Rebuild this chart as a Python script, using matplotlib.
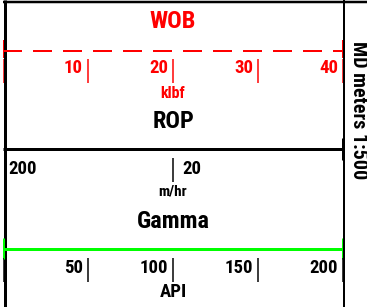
import matplotlib
matplotlib.use("Agg")
import matplotlib.pyplot as plt

# ---- data ----
wob_title = "WOB"
wob_unit = "klbf"
wob_range = [0, 40]
wob_ticks = [10, 20, 30, 40]

rop_title = "ROP"
rop_unit = "m/hr"
rop_range = [200, 2]
rop_ticks = [20]
rop_left_label = "200"

gamma_title = "Gamma"
gamma_unit = "API"
gamma_range = [0, 200]
gamma_ticks = [50, 100, 150, 200]

depth_label = "MD meters 1:500"

# ---- styling ----
W, H = 367, 307
plt.rcParams['font.family'] = ['Roboto Condensed', 'Liberation Sans', 'DejaVu Sans']
plt.rcParams['font.weight'] = 'bold'
plt.rcParams['lines.solid_capstyle'] = 'butt'
plt.rcParams['lines.dash_capstyle'] = 'butt'

fig = plt.figure(figsize=(W / 100, H / 100), dpi=100)
PX = 0.72  # points per pixel at dpi 100

# base layer in pixel coordinates
base = fig.add_axes([0, 0, 1, 1])
base.set_xlim(0, W)
base.set_ylim(H, 0)
base.axis('off')

TRACK_L, TRACK_R = 3, 343


def track_axes(rng, log=False):
    ax = fig.add_axes([TRACK_L / W, 0, (TRACK_R - TRACK_L) / W, 1])
    if log:
        ax.set_xscale('log')
    ax.set_xlim(rng[0], rng[1])
    ax.set_ylim(H, 0)
    ax.axis('off')
    ax.patch.set_alpha(0)
    return ax


title_fs = 17.5
tick_fs = 13.5

# WOB
red = '#ff0000'
ax = track_axes(wob_range)
ax.text(sum(wob_range) / 2, 21.5, wob_title, color=red, fontsize=title_fs,
        ha='center', va='center', fontweight='bold')
lw = 2.0 * PX
ax.plot(wob_range, [50.5, 50.5], color=red, lw=lw,
        ls=(0, (19 * PX / lw, 11 * PX / lw)))
ax.vlines(wob_range, 40, 58, color=red, lw=2 * PX)
ax.vlines([wob_range[0]] + wob_ticks, 59, 83, color=red, lw=1.5 * PX)
for t in wob_ticks:
    ax.annotate(str(t), (t, 68), xytext=(-5 * PX, 0), textcoords='offset points',
                color=red, fontsize=tick_fs, ha='right', va='center', fontweight='bold')
ax.text(sum(wob_range) / 2, 93, wob_unit, color=red, fontsize=11.5,
        ha='center', va='center', fontweight='bold')

# ROP
ax = track_axes(rop_range, log=True)
ax.text((rop_range[0] * rop_range[1]) ** 0.5, 122, rop_title, color='black',
        fontsize=title_fs, ha='center', va='center', fontweight='bold')
ax.plot(rop_range, [148.5, 148.5], color='black', lw=3 * PX)
ax.vlines([rop_range[1]], 138, 160, color='black', lw=3 * PX)
ax.vlines(rop_ticks, 158, 182, color='black', lw=1.5 * PX)
ax.annotate(rop_left_label, (rop_range[0], 169), xytext=(5 * PX, 0),
            textcoords='offset points', color='black', fontsize=tick_fs,
            ha='left', va='center', fontweight='bold')
for t in rop_ticks:
    ax.annotate(str(t), (t, 169), xytext=(9 * PX, 0), textcoords='offset points',
                color='black', fontsize=tick_fs, ha='left', va='center', fontweight='bold')
ax.text(rop_ticks[0], 192, rop_unit, color='black', fontsize=11,
        ha='center', va='center', fontweight='bold')

# Gamma
green = '#00ff00'
ax = track_axes(gamma_range)
ax.text(sum(gamma_range) / 2, 221, gamma_title, color='black', fontsize=title_fs,
        ha='center', va='center', fontweight='bold')
ax.plot(gamma_range, [248.5, 248.5], color=green, lw=3 * PX)
ax.vlines(gamma_range, 238, 259, color=green, lw=3 * PX)
ax.vlines([gamma_range[0]] + gamma_ticks, 258, 282, color='black', lw=1.5 * PX)
for t in gamma_ticks:
    ax.annotate(str(t), (t, 268), xytext=(-5 * PX, 0), textcoords='offset points',
                color='black', fontsize=tick_fs, ha='right', va='center', fontweight='bold')
ax.text(sum(gamma_range) / 2, 292, gamma_unit, color='black', fontsize=13.5,
        ha='center', va='center', fontweight='bold')

# frame lines
base.plot([4.5, 4.5], [0, H], color='black', lw=3 * PX)
base.plot([3, W], [1.5, 1.5], color='black', lw=2.5 * PX)
base.plot([344, 344], [0, H], color='black', lw=2 * PX)

# depth column label
base.text(358.5, 110, depth_label, rotation=-90, color='black', fontsize=14.5,
          ha='center', va='center', fontweight='bold')

fig.savefig('out.png', dpi=100)
